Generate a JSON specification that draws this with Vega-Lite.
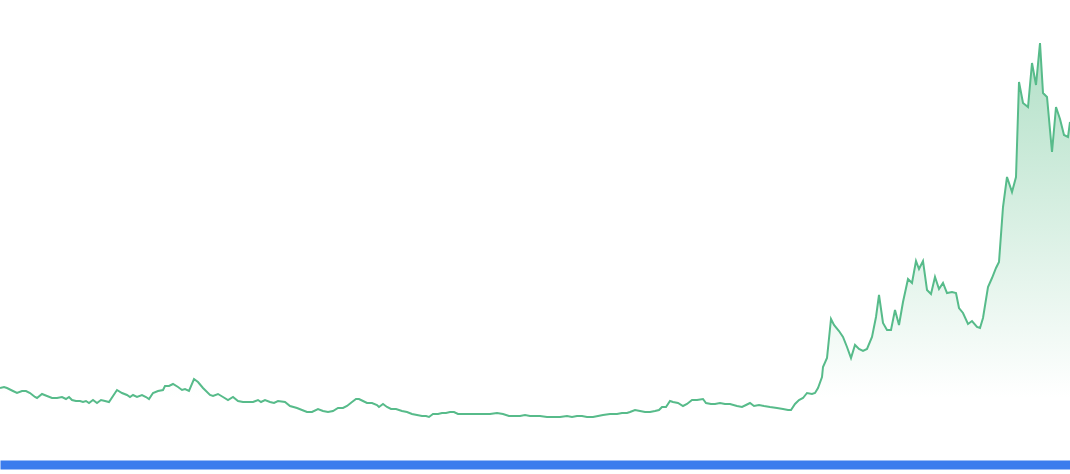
{
  "$schema": "https://vega.github.io/schema/vega-lite/v6.json",
  "width": 1070,
  "height": 460,
  "autosize": {"type": "none"},
  "padding": {"top": 0, "left": 0, "right": 0, "bottom": 14},
  "background": "#ffffff",
  "config": {"view": {"stroke": null}},
  "data": {"values": [
    {"d":0,"v":72},{"d":4,"v":73},{"d":7,"v":72},{"d":13,"v":69},{"d":17,"v":67},{"d":22,"v":69},{"d":26,"v":69},{"d":30,"v":67},{"d":35,"v":63},{"d":37,"v":62},{"d":42,"v":66},{"d":47,"v":64},{"d":52,"v":62},{"d":57,"v":62},{"d":62,"v":63},{"d":66,"v":61},{"d":69,"v":63},{"d":72,"v":60},{"d":76,"v":59},{"d":80,"v":59},{"d":83,"v":58},{"d":86,"v":59},{"d":89,"v":57},{"d":93,"v":60},{"d":97,"v":57},{"d":101,"v":60},{"d":105,"v":59},{"d":109,"v":58},{"d":117,"v":70},{"d":122,"v":67},{"d":127,"v":65},{"d":130,"v":63},{"d":133,"v":65},{"d":137,"v":63},{"d":142,"v":65},{"d":146,"v":63},{"d":149,"v":61},{"d":153,"v":67},{"d":158,"v":69},{"d":163,"v":70},{"d":165,"v":74},{"d":169,"v":74},{"d":173,"v":76},{"d":178,"v":73},{"d":182,"v":70},{"d":185,"v":71},{"d":189,"v":69},{"d":194,"v":81},{"d":198,"v":78},{"d":203,"v":72},{"d":210,"v":65},{"d":213,"v":64},{"d":218,"v":66},{"d":223,"v":63},{"d":228,"v":60},{"d":233,"v":63},{"d":238,"v":59},{"d":243,"v":58},{"d":250,"v":58},{"d":253,"v":58},{"d":258,"v":60},{"d":261,"v":58},{"d":265,"v":60},{"d":270,"v":58},{"d":274,"v":57},{"d":278,"v":59},{"d":285,"v":58},{"d":290,"v":54},{"d":297,"v":52},{"d":302,"v":50},{"d":307,"v":48},{"d":312,"v":48},{"d":318,"v":51},{"d":323,"v":49},{"d":328,"v":48},{"d":333,"v":49},{"d":338,"v":52},{"d":343,"v":52},{"d":347,"v":54},{"d":352,"v":58},{"d":356,"v":61},{"d":359,"v":61},{"d":363,"v":59},{"d":367,"v":57},{"d":372,"v":57},{"d":377,"v":55},{"d":379,"v":53},{"d":383,"v":56},{"d":387,"v":53},{"d":391,"v":51},{"d":396,"v":51},{"d":402,"v":49},{"d":407,"v":48},{"d":412,"v":46},{"d":417,"v":45},{"d":422,"v":44},{"d":426,"v":44},{"d":429,"v":43},{"d":433,"v":46},{"d":438,"v":46},{"d":442,"v":47},{"d":446,"v":47},{"d":450,"v":48},{"d":454,"v":48},{"d":458,"v":46},{"d":463,"v":46},{"d":470,"v":46},{"d":477,"v":46},{"d":483,"v":46},{"d":490,"v":46},{"d":497,"v":47},{"d":503,"v":46},{"d":509,"v":44},{"d":515,"v":44},{"d":520,"v":44},{"d":525,"v":45},{"d":530,"v":44},{"d":537,"v":44},{"d":540,"v":44},{"d":547,"v":43},{"d":553,"v":43},{"d":560,"v":43},{"d":567,"v":44},{"d":572,"v":43},{"d":577,"v":44},{"d":582,"v":44},{"d":587,"v":43},{"d":593,"v":43},{"d":598,"v":44},{"d":603,"v":45},{"d":610,"v":46},{"d":617,"v":46},{"d":622,"v":47},{"d":627,"v":47},{"d":630,"v":48},{"d":635,"v":50},{"d":640,"v":49},{"d":645,"v":48},{"d":650,"v":48},{"d":655,"v":49},{"d":659,"v":50},{"d":662,"v":53},{"d":666,"v":53},{"d":670,"v":59},{"d":673,"v":58},{"d":678,"v":57},{"d":683,"v":54},{"d":687,"v":56},{"d":692,"v":60},{"d":697,"v":60},{"d":703,"v":61},{"d":706,"v":57},{"d":711,"v":56},{"d":715,"v":56},{"d":720,"v":57},{"d":725,"v":56},{"d":730,"v":56},{"d":737,"v":54},{"d":742,"v":53},{"d":746,"v":55},{"d":750,"v":57},{"d":754,"v":54},{"d":759,"v":55},{"d":764,"v":54},{"d":770,"v":53},{"d":777,"v":52},{"d":783,"v":51},{"d":788,"v":50},{"d":791,"v":50},{"d":795,"v":56},{"d":799,"v":60},{"d":803,"v":62},{"d":807,"v":67},{"d":812,"v":66},{"d":815,"v":67},{"d":818,"v":72},{"d":822,"v":83},{"d":823,"v":93},{"d":827,"v":102},{"d":831,"v":141},{"d":834,"v":135},{"d":839,"v":129},{"d":843,"v":123},{"d":847,"v":113},{"d":851,"v":102},{"d":855,"v":115},{"d":859,"v":111},{"d":863,"v":109},{"d":867,"v":111},{"d":872,"v":123},{"d":876,"v":143},{"d":879,"v":165},{"d":883,"v":137},{"d":887,"v":130},{"d":891,"v":130},{"d":895,"v":150},{"d":899,"v":135},{"d":903,"v":158},{"d":908,"v":181},{"d":912,"v":177},{"d":916,"v":199},{"d":919,"v":191},{"d":923,"v":199},{"d":927,"v":170},{"d":931,"v":166},{"d":935,"v":183},{"d":939,"v":171},{"d":943,"v":177},{"d":947,"v":167},{"d":952,"v":168},{"d":956,"v":167},{"d":959,"v":152},{"d":963,"v":147},{"d":968,"v":136},{"d":972,"v":139},{"d":977,"v":133},{"d":980,"v":132},{"d":983,"v":142},{"d":988,"v":173},{"d":992,"v":182},{"d":996,"v":192},{"d":999,"v":198},{"d":1003,"v":253},{"d":1007,"v":283},{"d":1012,"v":268},{"d":1016,"v":283},{"d":1019,"v":378},{"d":1023,"v":357},{"d":1028,"v":353},{"d":1032,"v":397},{"d":1036,"v":375},{"d":1040,"v":417},{"d":1043,"v":367},{"d":1047,"v":363},{"d":1052,"v":308},{"d":1056,"v":353},{"d":1060,"v":341},{"d":1064,"v":325},{"d":1068,"v":323},{"d":1070,"v":338}
  ]},
  "encoding": {
    "x": {
      "field": "d",
      "type": "quantitative",
      "scale": {"domain": [0, 1070], "nice": false, "zero": false},
      "axis": {
        "domain": true,
        "domainColor": "#3b7ced",
        "domainWidth": 9,
        "domainCap": "butt",
        "offset": 4.5,
        "ticks": false,
        "labels": false,
        "grid": false,
        "title": null
      }
    },
    "y": {
      "field": "v",
      "type": "quantitative",
      "scale": {"domain": [0, 460], "nice": false},
      "axis": null
    }
  },
  "layer": [
    {
      "mark": {
        "type": "area",
        "line": false,
        "color": {
          "gradient": "linear",
          "x1": 0, "y1": 1, "x2": 0, "y2": 0,
          "stops": [
            {"offset": 0, "color": "#ffffff"},
            {"offset": 0.15, "color": "#ffffff"},
            {"offset": 1, "color": "#b2e0c7"}
          ]
        }
      }
    },
    {
      "mark": {"type": "line", "color": "#57bb8a", "strokeWidth": 2, "strokeJoin": "miter"}
    }
  ]
}
